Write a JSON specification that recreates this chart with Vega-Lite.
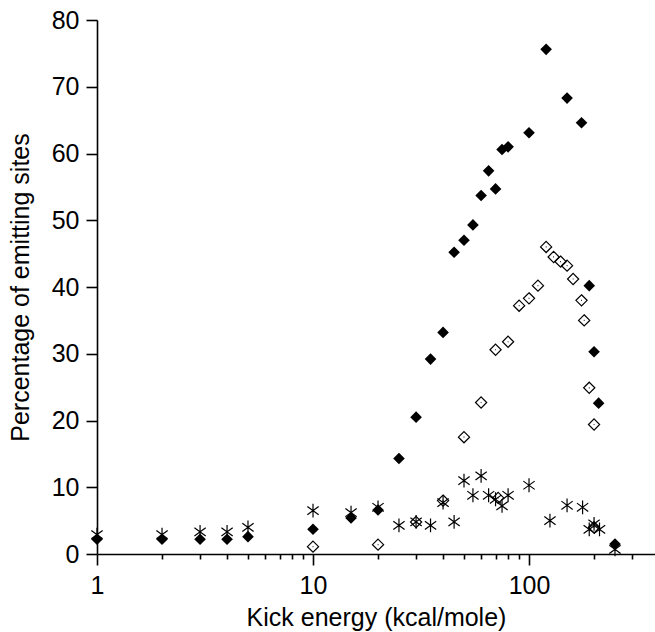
{
  "$schema": "https://vega.github.io/schema/vega-lite/v6.json",
  "width": 558,
  "height": 534,
  "autosize": {"type": "none"},
  "padding": {"left": 97, "top": 20, "right": 0, "bottom": 78},
  "background": "white",
  "config": {
    "view": {"stroke": null},
    "font": "Liberation Sans"
  },
  "data": {
    "values": [
      {"series": "star", "x": 1, "y": 2.9},
      {"series": "star", "x": 2, "y": 2.9},
      {"series": "star", "x": 3, "y": 3.3},
      {"series": "star", "x": 4, "y": 3.3},
      {"series": "star", "x": 5, "y": 4.0},
      {"series": "star", "x": 10, "y": 6.5},
      {"series": "star", "x": 15, "y": 6.2},
      {"series": "star", "x": 20, "y": 7.0},
      {"series": "star", "x": 25, "y": 4.3},
      {"series": "star", "x": 30, "y": 4.8},
      {"series": "star", "x": 35, "y": 4.3},
      {"series": "star", "x": 40, "y": 7.7},
      {"series": "star", "x": 45, "y": 4.8},
      {"series": "star", "x": 50, "y": 11.0},
      {"series": "star", "x": 55, "y": 8.8},
      {"series": "star", "x": 60, "y": 11.7},
      {"series": "star", "x": 65, "y": 8.8},
      {"series": "star", "x": 70, "y": 8.2},
      {"series": "star", "x": 75, "y": 7.2},
      {"series": "star", "x": 80, "y": 8.8},
      {"series": "star", "x": 100, "y": 10.3},
      {"series": "star", "x": 125, "y": 5.0},
      {"series": "star", "x": 150, "y": 7.3},
      {"series": "star", "x": 177, "y": 7.0},
      {"series": "star", "x": 190, "y": 3.7},
      {"series": "star", "x": 200, "y": 4.5},
      {"series": "star", "x": 212, "y": 3.7},
      {"series": "star", "x": 250, "y": 0.7},
      {"series": "open", "x": 10, "y": 1.1},
      {"series": "open", "x": 20, "y": 1.4},
      {"series": "open", "x": 30, "y": 4.8},
      {"series": "open", "x": 40, "y": 8.0},
      {"series": "open", "x": 50, "y": 17.5},
      {"series": "open", "x": 60, "y": 22.7},
      {"series": "open", "x": 70, "y": 30.6},
      {"series": "open", "x": 72, "y": 8.4},
      {"series": "open", "x": 80, "y": 31.8},
      {"series": "open", "x": 90, "y": 37.2},
      {"series": "open", "x": 100, "y": 38.3},
      {"series": "open", "x": 110, "y": 40.2},
      {"series": "open", "x": 120, "y": 46.0},
      {"series": "open", "x": 130, "y": 44.5},
      {"series": "open", "x": 140, "y": 43.8},
      {"series": "open", "x": 150, "y": 43.2},
      {"series": "open", "x": 160, "y": 41.2},
      {"series": "open", "x": 175, "y": 38.0},
      {"series": "open", "x": 180, "y": 35.0},
      {"series": "open", "x": 190, "y": 24.9},
      {"series": "open", "x": 200, "y": 19.4},
      {"series": "open", "x": 200, "y": 4.0},
      {"series": "filled", "x": 1, "y": 2.2},
      {"series": "filled", "x": 2, "y": 2.2},
      {"series": "filled", "x": 3, "y": 2.2},
      {"series": "filled", "x": 4, "y": 2.2},
      {"series": "filled", "x": 5, "y": 2.6},
      {"series": "filled", "x": 10, "y": 3.7},
      {"series": "filled", "x": 15, "y": 5.4},
      {"series": "filled", "x": 20, "y": 6.6},
      {"series": "filled", "x": 25, "y": 14.3},
      {"series": "filled", "x": 30, "y": 20.5},
      {"series": "filled", "x": 35, "y": 29.2},
      {"series": "filled", "x": 40, "y": 33.2},
      {"series": "filled", "x": 45, "y": 45.2},
      {"series": "filled", "x": 50, "y": 47.0},
      {"series": "filled", "x": 55, "y": 49.3},
      {"series": "filled", "x": 60, "y": 53.7},
      {"series": "filled", "x": 65, "y": 57.4},
      {"series": "filled", "x": 70, "y": 54.7},
      {"series": "filled", "x": 75, "y": 60.6},
      {"series": "filled", "x": 80, "y": 61.0},
      {"series": "filled", "x": 100, "y": 63.1},
      {"series": "filled", "x": 120, "y": 75.6},
      {"series": "filled", "x": 150, "y": 68.3},
      {"series": "filled", "x": 175, "y": 64.6},
      {"series": "filled", "x": 190, "y": 40.2},
      {"series": "filled", "x": 200, "y": 30.3},
      {"series": "filled", "x": 210, "y": 22.6},
      {"series": "filled", "x": 250, "y": 1.5}
    ]
  },
  "encoding": {
    "x": {
      "field": "x",
      "type": "quantitative",
      "scale": {"type": "log", "domain": [1, 383], "nice": false},
      "axis": {
        "title": "Kick energy (kcal/mole)",
        "grid": false,
        "ticks": true,
        "values": [1, 2, 3, 4, 5, 6, 7, 8, 9, 10, 20, 30, 40, 50, 60, 70, 80, 90, 100, 200, 300],
        "tickSize": {"condition": {"test": "indexof([1,10,100], datum.value) >= 0", "value": 11}, "value": 5},
        "tickColor": "#000000",
        "tickWidth": 1.6,
        "tickOpacity": 1,
        "domainColor": "black",
        "domainWidth": 1.6,
        "domainOpacity": 1,
        "labelExpr": "indexof([1,10,100], datum.value) >= 0 ? format(datum.value, 'd') : ''",
        "labelOverlap": false,
        "labelFlush": false,
        "labelPadding": 8,
        "labelColor": "black",
        "labelFont": "Liberation Sans",
        "labelFontSize": 25,
        "titleFont": "Liberation Sans",
        "titleFontSize": 25,
        "titleFontWeight": "normal",
        "titleColor": "black",
        "titlePadding": 7
      }
    },
    "y": {
      "field": "y",
      "type": "quantitative",
      "scale": {"domain": [0, 80], "nice": false, "zero": true},
      "axis": {
        "title": "Percentage of emitting sites",
        "grid": false,
        "ticks": true,
        "values": [0, 10, 20, 30, 40, 50, 60, 70, 80],
        "tickSize": 11,
        "tickColor": "#000000",
        "tickWidth": 1.6,
        "tickOpacity": 1,
        "domainColor": "black",
        "domainWidth": 1.6,
        "domainOpacity": 1,
        "labelPadding": 7,
        "labelColor": "black",
        "labelFont": "Liberation Sans",
        "labelFontSize": 25,
        "titleFont": "Liberation Sans",
        "titleFontSize": 25,
        "titleFontWeight": "normal",
        "titleColor": "black",
        "titlePadding": 18
      }
    }
  },
  "layer": [
    {
      "transform": [{"filter": "datum.series == 'star'"}],
      "mark": {
        "type": "point",
        "shape": "M0,-1L0,1M-0.82,-0.6L0.82,0.6M-0.82,0.6L0.82,-0.6",
        "size": 190,
        "filled": false,
        "stroke": "black",
        "strokeWidth": 1.2,
        "opacity": 1
      }
    },
    {
      "transform": [{"filter": "datum.series == 'open'"}],
      "mark": {
        "type": "point",
        "shape": "M0,-1L1,0L0,1L-1,0Z M-0.07,0L0.07,0",
        "size": 125,
        "filled": false,
        "stroke": "black",
        "strokeWidth": 1.2,
        "opacity": 1
      }
    },
    {
      "transform": [{"filter": "datum.series == 'filled'"}],
      "mark": {
        "type": "point",
        "shape": "diamond",
        "size": 135,
        "filled": true,
        "fill": "black",
        "opacity": 1
      }
    }
  ]
}
